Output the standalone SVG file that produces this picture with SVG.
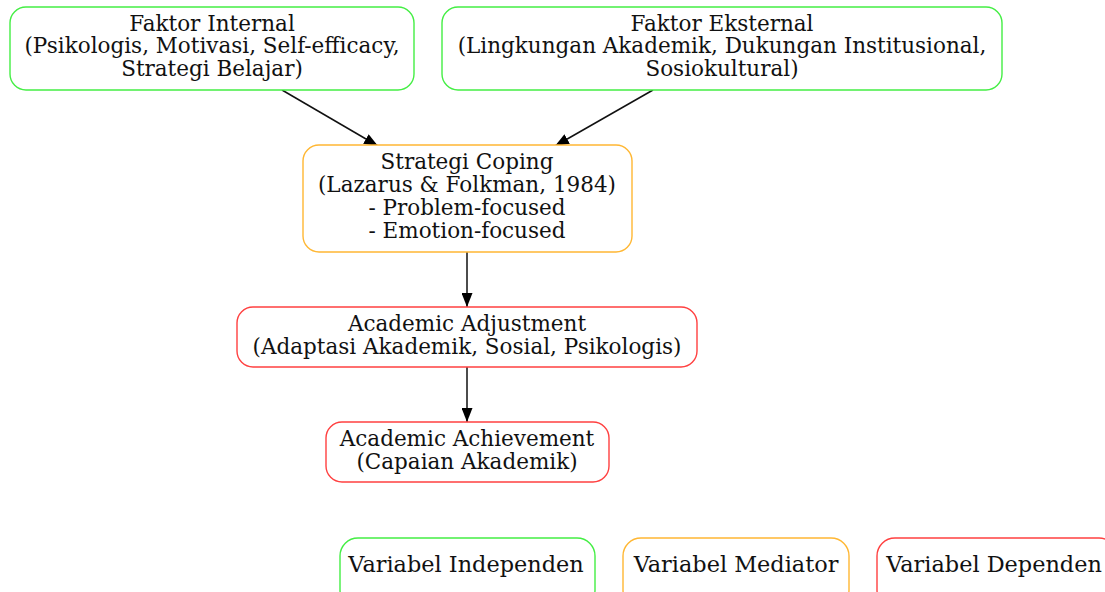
<svg xmlns="http://www.w3.org/2000/svg" width="1105" height="592" viewBox="0 0 1105 592">
<defs>
<marker id="ah" viewBox="0 0 14 11" refX="14" refY="5.5" markerWidth="14" markerHeight="11" markerUnits="userSpaceOnUse" orient="auto">
<path d="M0,0 L14,5.5 L0,11 Z" fill="#000"/>
</marker>
<style>
.box{fill:#fff;stroke-width:1.4}
.g{stroke:#44ee44}
.o{stroke:#ffb733}
.r{stroke:#ff4040}
text{font-family:"DejaVu Serif","Liberation Serif",serif;font-size:21.5px;fill:#111;text-anchor:middle}
.leg{font-size:22.4px}
.edge{stroke:#111;stroke-width:1.5;fill:none;marker-end:url(#ah)}
</style>
</defs>
<rect width="1105" height="592" fill="#fff"/>
<g id="edges">
<path class="edge" d="M282,90 L378,146"/>
<path class="edge" d="M653,90 L555,146"/>
<path class="edge" d="M467,252 L467,307"/>
<path class="edge" d="M467,367 L467,422"/>
</g>
<g id="internal">
<rect class="box g" x="10" y="7" width="404" height="83" rx="16"/>
<text x="212" y="30.5">Faktor Internal</text>
<text x="212" y="53">(Psikologis, Motivasi, Self-efficacy,</text>
<text x="212" y="75.5">Strategi Belajar)</text>
</g>
<g id="eksternal">
<rect class="box g" x="442" y="7" width="560" height="83" rx="16"/>
<text x="722" y="30.5">Faktor Eksternal</text>
<text x="722" y="53">(Lingkungan Akademik, Dukungan Institusional,</text>
<text x="722" y="75.5">Sosiokultural)</text>
</g>
<g id="coping">
<rect class="box o" x="303" y="145" width="329" height="107" rx="16"/>
<text x="467" y="168.5">Strategi Coping</text>
<text x="467" y="192">(Lazarus &amp; Folkman, 1984)</text>
<text x="467" y="215">- Problem-focused</text>
<text x="467" y="238">- Emotion-focused</text>
</g>
<g id="adjustment">
<rect class="box r" x="237" y="307" width="460" height="60" rx="16"/>
<text x="467" y="331">Academic Adjustment</text>
<text x="467" y="354">(Adaptasi Akademik, Sosial, Psikologis)</text>
</g>
<g id="achievement">
<rect class="box r" x="326" y="422" width="283" height="60" rx="16"/>
<text x="467" y="446">Academic Achievement</text>
<text x="467" y="469">(Capaian Akademik)</text>
</g>
<g id="leg-independen">
<rect class="box g" x="340" y="538" width="255" height="70" rx="18"/>
<text class="leg" x="466" y="572">Variabel Independen</text>
</g>
<g id="leg-mediator">
<rect class="box o" x="623" y="538" width="226" height="70" rx="18"/>
<text class="leg" x="736" y="572">Variabel Mediator</text>
</g>
<g id="leg-dependen">
<rect class="box r" x="877" y="538" width="240" height="70" rx="18"/>
<text class="leg" x="994" y="572">Variabel Dependen</text>
</g>
</svg>
